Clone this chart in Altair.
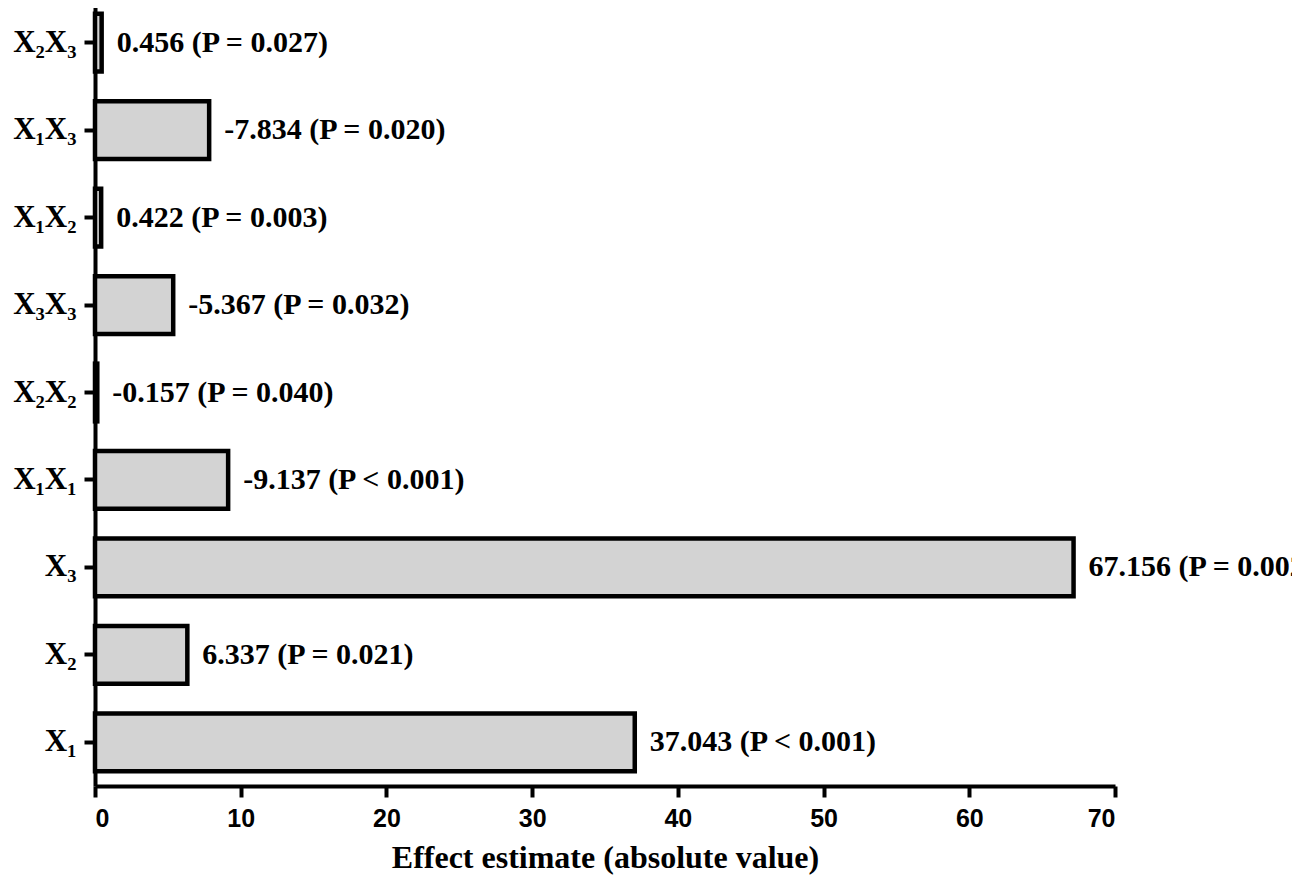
import altair as alt
import pandas as pd

terms = ["X₁", "X₂", "X₃", "X₁X₁", "X₂X₂", "X₃X₃", "X₁X₂", "X₁X₃", "X₂X₃"]
estimates = [37.043, 6.337, 67.156, -9.137, -0.157, -5.367, 0.422, -7.834, 0.456]
p_texts = ["P < 0.001", "P = 0.021", "P = 0.002", "P < 0.001", "P = 0.040",
           "P = 0.032", "P = 0.003", "P = 0.020", "P = 0.027"]
x_ticks = [0, 10, 20, 30, 40, 50, 60, 70]

df = pd.DataFrame({
    "term": terms,
    "estimate": estimates,
    "absval": [abs(v) for v in estimates],
    "label": [f"{v:.3f} ({p})" for v, p in zip(estimates, p_texts)],
})

order_top_down = list(reversed(terms))

y_enc = alt.Y(
    "term:N",
    sort=order_top_down,
    scale=alt.Scale(paddingInner=0.34, paddingOuter=0.17),
    axis=alt.Axis(
        title=None,
        labelFont="Liberation Serif",
        labelFontWeight="bold",
        labelFontSize=31,
        labelColor="black",
        labelPadding=8,
        tickSize=11,
        tickWidth=4,
        tickColor="black",
        domainColor="black",
        domainWidth=4,
        grid=False,
    ),
)

x_enc = alt.X(
    "absval:Q",
    scale=alt.Scale(domain=[0, 70], nice=False),
    axis=alt.Axis(
        title="Effect estimate (absolute value)",
        values=x_ticks,
        labelFont="Liberation Sans",
        labelFontWeight="bold",
        labelFontSize=25,
        labelColor="black",
        labelPadding=9,
        tickSize=11,
        tickWidth=4,
        tickColor="black",
        domainColor="black",
        domainWidth=4,
        grid=False,
        titleFont="Liberation Serif",
        titleFontWeight="bold",
        titleFontSize=32,
        titleColor="black",
        titlePadding=11,
    ),
)

bars = alt.Chart(df).mark_bar(
    fill="#d3d3d3", stroke="black", strokeWidth=4.5
).encode(x=x_enc, y=y_enc)

texts = alt.Chart(df).mark_text(
    align="left", baseline="middle", dx=15,
    font="Liberation Serif", fontWeight="bold", fontSize=30, color="black"
).encode(
    x=alt.X("absval:Q"),
    y=alt.Y("term:N", sort=order_top_down),
    text="label:N",
)

chart = (bars + texts).properties(
    width=1020,
    height=787,
    autosize=alt.AutoSizeParams(type="none"),
    padding={"left": 87, "top": -9, "right": 177, "bottom": 93},
    background="white",
).configure_view(stroke=None)

chart.save("out.html", embed_options={"renderer": "svg", "actions": False})
